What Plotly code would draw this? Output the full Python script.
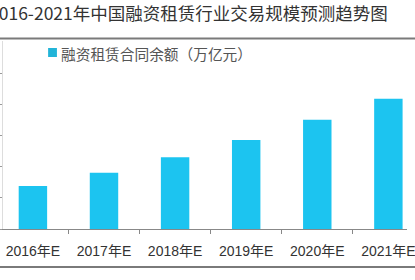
import plotly.graph_objects as go

categories = ["2016年E", "2017年E", "2018年E", "2019年E", "2020年E", "2021年E"]
values = [5.5, 7.2, 9.2, 11.4, 14.0, 16.7]
series_name = "融资租赁合同余额（万亿元）"
title_text = "2016-2021年中国融资租赁行业交易规模预测趋势图"
y_ticks = [0, 4, 8, 12, 16, 20]

W, H = 415, 280
ml, mr, mt, mb = 3, 0, 41, 51
pw, ph = W - ml - mr, H - mt - mb

def px_x(p):
    return (p - ml) / pw

def px_y(p):
    return (H - mb - p) / ph

bar_color = "#1CC4F0"

fig = go.Figure()
fig.add_trace(go.Bar(
    x=categories, y=values, name=series_name,
    marker=dict(color=bar_color, line=dict(width=0)),
    showlegend=False,
))

fig.update_layout(
    width=W, height=H, autosize=False,
    margin=dict(l=ml, r=mr, t=mt, b=mb, pad=0),
    paper_bgcolor="white", plot_bgcolor="white",
    bargap=0.6,
    font=dict(family="Liberation Sans, Noto Sans CJK SC", color="#333"),
    xaxis=dict(
        type="category", range=[-0.4207, 5.262],
        tickson="boundaries", ticks="outside", ticklen=4, tickcolor="#888",
        showline=True, linecolor="#888", linewidth=1,
        showgrid=False, zeroline=False,
        tickfont=dict(size=14, color="#333", family="Liberation Sans, Noto Sans CJK SC"),
        ticklabelstandoff=9,
    ),
    yaxis=dict(
        range=[0, ph / 31.2 * 4], tickvals=y_ticks, showticklabels=False,
        ticks="outside", ticklen=3, tickcolor="#999",
        showline=True, linecolor="#ddd", linewidth=1,
        showgrid=False, zeroline=False,
    ),
    shapes=[
        dict(type="line", xref="paper", yref="paper", x0=-0.02, x1=1.02,
             y0=px_y(38.5), y1=px_y(38.5), line=dict(color="#7a7a7a", width=2)),
        dict(type="line", xref="paper", yref="paper", x0=-0.02, x1=1.02,
             y0=px_y(267), y1=px_y(267), line=dict(color="#7a7a7a", width=2)),
        dict(type="rect", xref="paper", yref="paper", x0=px_x(49), x1=px_x(58),
             y0=px_y(57), y1=px_y(48), fillcolor="#22B4D8", line=dict(width=0)),
    ],
    annotations=[
        dict(text=title_text, xref="paper", yref="paper", x=px_x(-13), y=px_y(13),
             xanchor="left", yanchor="middle", showarrow=False,
             font=dict(size=17.5, color="#333", family="Noto Sans CJK SC")),
        dict(text=series_name, xref="paper", yref="paper", x=px_x(60), y=px_y(53),
             xanchor="left", yanchor="middle", showarrow=False,
             font=dict(size=14.7, color="#555", family="Noto Sans CJK SC")),
    ],
)

fig.write_html("out.html")
